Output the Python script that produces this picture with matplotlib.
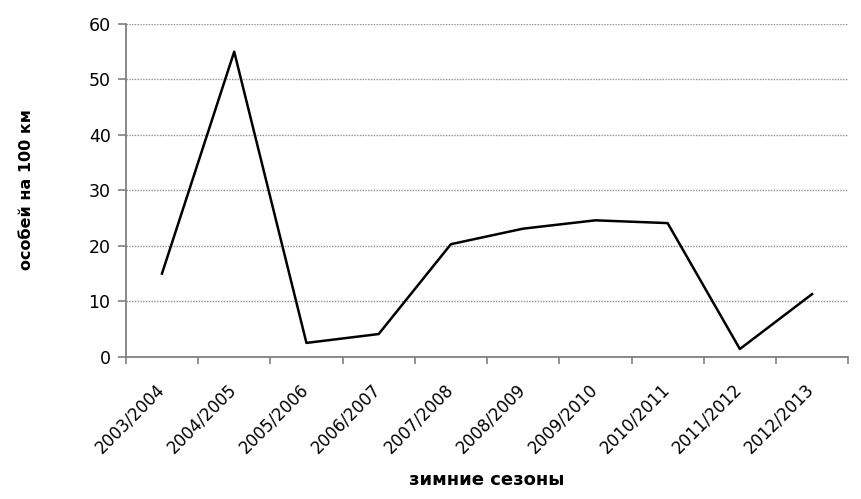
import numpy as np
import matplotlib
matplotlib.use("Agg")
import matplotlib.pyplot as plt
from matplotlib.transforms import ScaledTranslation

plt.rcParams['font.family'] = ['DejaVu Sans']

seasons = ["2003/2004", "2004/2005", "2005/2006", "2006/2007", "2007/2008",
           "2008/2009", "2009/2010", "2010/2011", "2011/2012", "2012/2013"]
density = [15.0, 55.0, 2.5, 4.1, 20.3, 23.1, 24.6, 24.1, 1.4, 11.3]

fig = plt.figure(figsize=(8.62, 4.99), dpi=100)
ax = fig.add_axes([0.146, 0.285, 0.838, 0.667])

x = np.arange(len(seasons))
ax.plot(x, density, color='black', lw=1.8)

ax.set_xlim(-0.5, len(seasons) - 0.5)
ax.set_ylim(0, 60)
ax.set_yticks(range(0, 61, 10))
ax.set_xticks(x)
ax.set_xticklabels(seasons, rotation=45, ha='right', rotation_mode='anchor', fontsize=12)
ax.set_xticks(np.arange(-0.5, len(seasons)), minor=True)
ax.tick_params(axis='x', which='major', length=0, pad=17)
ax.tick_params(axis='x', which='minor', length=5, color='#808080', width=1.2)
ax.tick_params(axis='y', length=6, color='#808080', width=1.2, labelsize=12.5, pad=5)

# nudge the rotated labels a little to the left
shift = ScaledTranslation(-7 / 100, 0, fig.dpi_scale_trans)
for lbl in ax.get_xticklabels():
    lbl.set_transform(lbl.get_transform() + shift)

ax.grid(axis='y', color='#909090', ls=(0, (1, 1)), lw=1)
for s in ['top', 'right']:
    ax.spines[s].set_visible(False)
for s in ['left', 'bottom']:
    ax.spines[s].set_color('#808080')
    ax.spines[s].set_linewidth(1.3)
ax.set_axisbelow(True)

fig.text(0.031, 0.62, "особей на 100 км", rotation=90, ha='center', va='center',
         fontsize=11.5, fontweight='bold')
fig.text(0.565, 0.028, "зимние сезоны", ha='center', fontsize=13, fontweight='bold')

fig.savefig("out.png", dpi=100)
